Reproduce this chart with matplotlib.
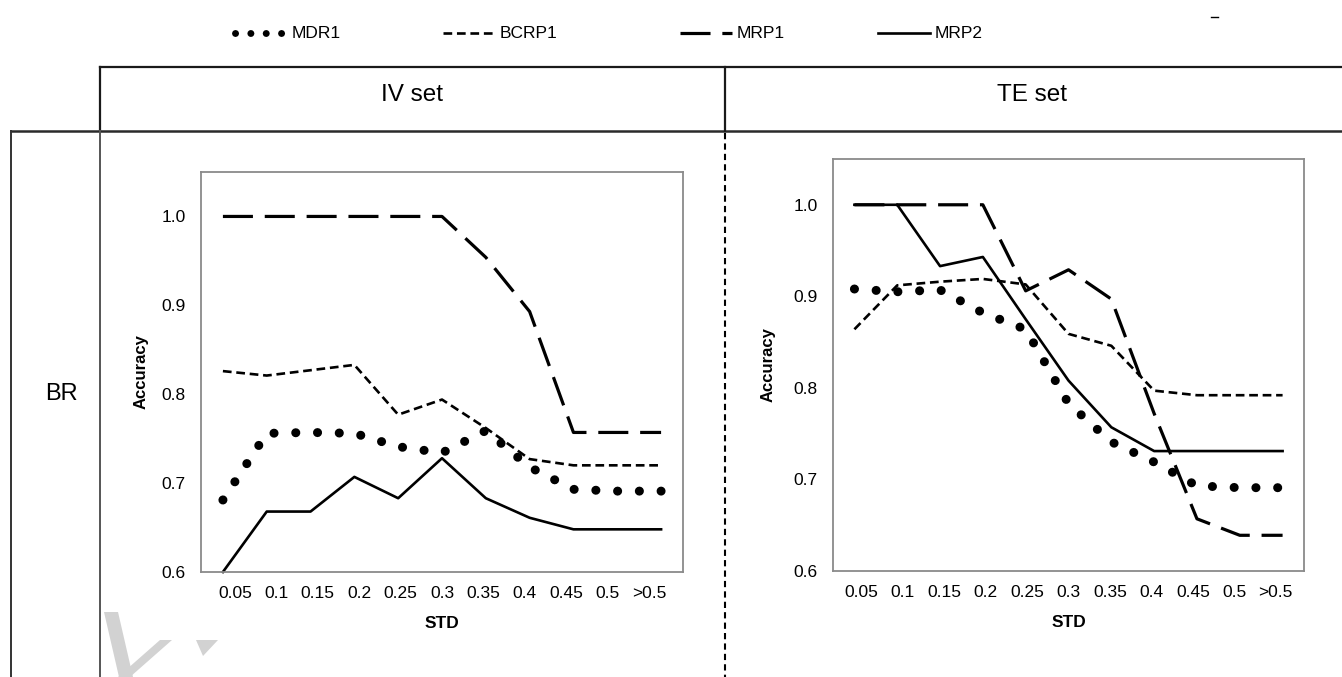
import matplotlib.pyplot as plt
from matplotlib.patches import Polygon

plt.rcParams['font.family'] = ['Liberation Sans', 'DejaVu Sans']

W, H = 1342, 677  # canvas size in pixels (dpi 100)

std_labels = ['0.05', '0.1', '0.15', '0.2', '0.25', '0.3', '0.35', '0.4', '0.45', '0.5', '>0.5']
series_names = ['MDR1', 'BCRP1', 'MRP1', 'MRP2']

# accuracy per STD threshold, IV set
iv_mdr1 = [0.681, 0.756, 0.757, 0.756, 0.741, 0.734, 0.759, 0.718, 0.693, 0.691, 0.691]
iv_bcrp1 = [0.826, 0.821, 0.827, 0.833, 0.777, 0.794, 0.762, 0.727, 0.720, 0.720, 0.720]
iv_mrp1 = [1.0, 1.0, 1.0, 1.0, 1.0, 1.0, 0.954, 0.893, 0.757, 0.757, 0.757]
iv_mrp2 = [0.600, 0.668, 0.668, 0.707, 0.683, 0.728, 0.683, 0.661, 0.648, 0.648, 0.648]

# accuracy per STD threshold, TE set
te_mdr1 = [0.908, 0.905, 0.907, 0.882, 0.864, 0.783, 0.741, 0.719, 0.693, 0.691, 0.691]
te_bcrp1 = [0.864, 0.912, 0.916, 0.919, 0.913, 0.859, 0.846, 0.797, 0.792, 0.792, 0.792]
te_mrp1 = [1.0, 1.0, 1.0, 1.0, 0.906, 0.929, 0.897, 0.772, 0.657, 0.639, 0.639]
te_mrp2 = [1.0, 1.0, 0.933, 0.943, 0.875, 0.808, 0.757, 0.731, 0.731, 0.731, 0.731]

styles = {
    'MDR1': dict(lw=6.5, ls=(0, (0.01, 2.4)), dash_capstyle='round'),
    'BCRP1': dict(lw=1.9, ls=(0, (3.3, 1.8))),
    'MRP1': dict(lw=2.3, ls=(0, (9.4, 3.7))),
    'MRP2': dict(lw=1.9, ls='-'),
}


def px_rect(x0, y0, x1, y1):
    # pixel box (top-left origin) -> figure fraction rect
    return [x0 / W, 1 - y1 / H, (x1 - x0) / W, (y1 - y0) / H]


def accuracy_panel(rect, data, squeeze, ylabelpad):
    ax = fig.add_axes(rect, zorder=2)
    x = range(len(std_labels))
    for name, vals in zip(series_names, data):
        ax.plot(x, vals, color='black', clip_on=False, **styles[name])
    ax.set_xlim(-0.5, len(std_labels) - 0.5)
    ax.set_ylim(0.6, 1.05)
    mid = (len(std_labels) - 1) / 2
    ax.set_xticks([mid + (i - mid) * squeeze for i in x])
    ax.set_xticklabels(std_labels)
    ax.set_yticks([0.6, 0.7, 0.8, 0.9, 1.0])
    ax.set_yticklabels(['0.6', '0.7', '0.8', '0.9', '1.0'])
    ax.tick_params(axis='both', length=0, labelsize=12.5)
    ax.tick_params(axis='x', pad=10)
    ax.tick_params(axis='y', pad=11)
    for sp in ax.spines.values():
        sp.set_color('#8a8a8a')
        sp.set_linewidth(1.3)
    ax.set_xlabel('STD', fontsize=12.5, fontweight='bold', labelpad=11)
    ax.set_ylabel('Accuracy', fontsize=12, fontweight='bold', labelpad=ylabelpad)
    return ax


fig = plt.figure(figsize=(W / 100, H / 100), dpi=100)

# table grid and labels drawn in pixel coordinates
bg = fig.add_axes([0, 0, 1, 1], zorder=0)
bg.set_xlim(0, W)
bg.set_ylim(H, 0)
bg.axis('off')

bg.plot([100, W], [67, 67], color='#1a1a1a', lw=1.6)
bg.plot([11, W], [131, 131], color='#2a2a2a', lw=1.8)
bg.plot([100, 100], [67, 131], color='#1a1a1a', lw=1.6)
bg.plot([100, 100], [131, H], color='#555555', lw=1.4)
bg.plot([11, 11], [131, H], color='#333333', lw=1.4)
bg.plot([725, 725], [67, 131], color='#1a1a1a', lw=1.6)
bg.plot([725, 725], [133, H], color='black', lw=1.5, ls=(0, (3, 2)))

bg.text(412, 95, 'IV set', ha='center', va='center', fontsize=17.5)
bg.text(1032, 95, 'TE set', ha='center', va='center', fontsize=17.5)
bg.text(61, 394, 'BR', ha='center', va='center', fontsize=17)

# legend row
legend_x = [232, 440, 677, 875]
for name, lx in zip(series_names, legend_x):
    st = dict(styles[name])
    if name == 'MDR1':
        st['lw'] = 5
        st['ls'] = (0, (0.01, 2.2))
    bg.plot([lx + 3, lx + 55], [33, 33], color='black', **st)
    bg.text(lx + 60, 33, name, ha='left', va='center', fontsize=12.5)
bg.plot([1211, 1218], [17, 17], color='black', lw=1)

# faint watermark strokes
for pts in ([(104, 612), (118, 612), (133, 677), (119, 677)],
            [(160, 640), (172, 640), (130, 677), (118, 677)],
            [(196, 640), (218, 640), (203, 656)]):
    bg.add_patch(Polygon(pts, closed=True, color='#d2d2d2', lw=0))

accuracy_panel(px_rect(201, 172, 683, 572), [iv_mdr1, iv_bcrp1, iv_mrp1, iv_mrp2], 0.945, 9)
accuracy_panel(px_rect(833, 159, 1304, 571), [te_mdr1, te_bcrp1, te_mrp1, te_mrp2], 0.968, 13)

fig.savefig('out.png', dpi=100, facecolor='white')
